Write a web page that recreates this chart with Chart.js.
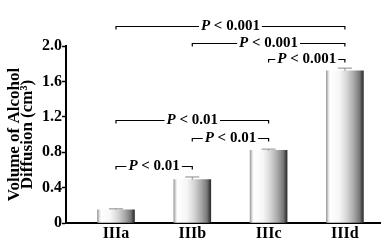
<!DOCTYPE html>
<html>
<head>
  <title>Alcohol Diffusion</title>
  <script src="https://cdn.jsdelivr.net/npm/chart.js"></script>
  <style>
    body { margin: 0; padding: 0; background: #fff; }
    #wrap { width: 390px; height: 244px; }
  </style>
</head>
<body>
  <div id="wrap"><canvas id="diffChart" width="390" height="244"></canvas></div>
  <script>
    const categories = ['IIIa', 'IIIb', 'IIIc', 'IIId'];
    const volumes = [0.15, 0.49, 0.82, 1.72];
    const errors = [0.01, 0.03, 0.015, 0.03];
    const yTickLabels = ['0', '0.4', '0.8', '1.2', '1.6', '2.0'];

    // significance brackets: from group, to group, height (data units), label
    const bracketFrom = [0, 1, 2, 0, 1, 0];
    const bracketTo = [3, 3, 3, 2, 2, 1];
    const bracketLevel = [2.23, 2.03, 1.85, 1.16, 0.96, 0.645];
    const bracketText = ['< 0.001', '< 0.001', '< 0.001', '< 0.01', '< 0.01', '< 0.01'];

    const serif = '"Liberation Serif", "Times New Roman", serif';

    function barGradient(context) {
      const chart = context.chart;
      const x = chart.scales.x;
      if (!chart.chartArea || !x) return '#dddddd';
      const cx = x.getPixelForValue(context.dataIndex);
      const g = chart.ctx.createLinearGradient(cx - 18.5, 0, cx + 18.5, 0);
      g.addColorStop(0, '#9a9a9a');
      g.addColorStop(0.06, '#e6e6e6');
      g.addColorStop(0.1, '#ffffff');
      g.addColorStop(0.35, '#f6f6f6');
      g.addColorStop(0.55, '#d6d6d6');
      g.addColorStop(0.75, '#a6a6a6');
      g.addColorStop(0.9, '#777777');
      g.addColorStop(0.95, '#4e4e4e');
      g.addColorStop(1, '#2e2e2e');
      return g;
    }

    const extrasPlugin = {
      id: 'extras',
      afterDatasetsDraw(chart) {
        const ctx = chart.ctx;
        const xs = chart.scales.x, ys = chart.scales.y;
        ctx.save();
        // error bars
        ctx.strokeStyle = '#8a8a8a';
        ctx.lineWidth = 1;
        volumes.forEach((v, i) => {
          const cx = xs.getPixelForValue(i);
          const top = ys.getPixelForValue(v + errors[i]);
          const base = ys.getPixelForValue(v);
          ctx.beginPath();
          ctx.moveTo(cx, base);
          ctx.lineTo(cx, top);
          ctx.moveTo(cx - 7, top);
          ctx.lineTo(cx + 7, top);
          ctx.stroke();
        });
        // brackets
        ctx.strokeStyle = '#000';
        ctx.fillStyle = '#000';
        ctx.lineWidth = 1.2;
        ctx.textBaseline = 'middle';
        const fontP = 'bold italic 15px ' + serif;
        const fontR = 'bold 15px ' + serif;
        bracketFrom.forEach((f, i) => {
          const x1 = xs.getPixelForValue(f);
          const x2 = xs.getPixelForValue(bracketTo[i]);
          const y = Math.round(ys.getPixelForValue(bracketLevel[i])) + 0.5;
          ctx.font = fontP;
          const wP = ctx.measureText('P ').width;
          ctx.font = fontR;
          const wR = ctx.measureText(bracketText[i]).width;
          const w = wP + wR;
          const mid = (x1 + x2) / 2;
          const tx = mid - w / 2;
          ctx.beginPath();
          ctx.moveTo(x1, y + 3);
          ctx.lineTo(x1, y);
          ctx.lineTo(tx - 2, y);
          ctx.moveTo(tx + w + 2, y);
          ctx.lineTo(x2, y);
          ctx.lineTo(x2, y + 3);
          ctx.stroke();
          ctx.textAlign = 'left';
          ctx.font = fontP;
          ctx.fillText('P', tx, y);
          ctx.font = fontR;
          ctx.fillText(bracketText[i], tx + wP, y);
        });
        ctx.restore();
      }
    };

    new Chart(document.getElementById('diffChart').getContext('2d'), {
      type: 'bar',
      data: {
        datasets: [{
          data: categories.map((c, i) => ({ x: i, y: volumes[i] })),
          backgroundColor: barGradient,
          borderWidth: 0,
          barThickness: 37
        }]
      },
      options: {
        responsive: false,
        animation: false,
        layout: { padding: { top: 46, right: 10, left: 0, bottom: 0 } },
        plugins: { legend: { display: false }, tooltip: { enabled: false } },
        scales: {
          x: {
            type: 'linear',
            offset: false,
            min: -0.655,
            max: 3.46,
            afterBuildTicks: s => { s.ticks = categories.map((c, i) => ({ value: i })); },
            afterFit: s => { s.height = 21; },
            grid: { display: true, offset: false, drawOnChartArea: false, drawTicks: false },
            border: { display: true, color: '#000', width: 2 },
            ticks: {
              color: '#000',
              padding: 1,
              font: { family: serif, size: 16, weight: 'bold' },
              callback: v => categories[v]
            }
          },
          y: {
            min: 0,
            max: 2.0,
            afterBuildTicks: s => { s.ticks = yTickLabels.map((t, i) => ({ value: i * 0.4 })); },
            afterFit: s => { s.width = 66; },
            grid: { display: true, drawOnChartArea: false, drawTicks: true, tickLength: 4, color: '#000', tickWidth: 1.5 },
            border: { display: true, color: '#000', width: 2 },
            ticks: {
              color: '#000',
              padding: 0,
              font: { family: serif, size: 16, weight: 'bold' },
              callback: (v, i) => yTickLabels[i]
            },
            title: {
              display: true,
              text: ['Volume of Alcohol', 'Diffusion (cm\u00b3)'],
              color: '#000',
              padding: { top: 8.5, bottom: 0 },
              font: { family: serif, size: 17, weight: 'bold', lineHeight: '13px' }
            }
          }
        }
      },
      plugins: [extrasPlugin]
    });
  </script>
</body>
</html>
